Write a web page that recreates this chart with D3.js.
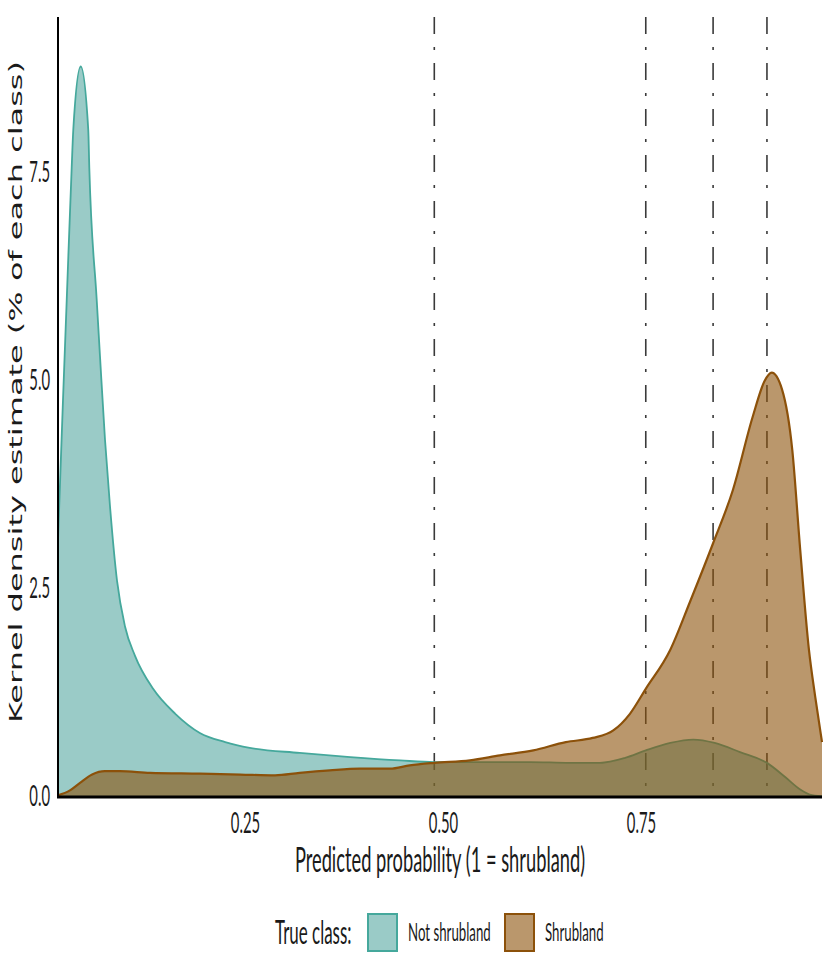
<!DOCTYPE html>
<html>
<head>
<meta charset="utf-8">
<script src="https://cdn.jsdelivr.net/npm/d3@7"></script>
<style>
  body { margin: 0; background: #fff; }
  text { font-family: Lato, "Open Sans", sans-serif; fill: #1a1a1a; }
</style>
</head>
<body>
<div id="chart"></div>
<script>
(function (d3) {
    'use strict';

    // predicted probability grid points and kernel density (% of each class)
    const notShrubX = [0.0139, 0.0202, 0.0249, 0.0312, 0.0332, 0.0426, 0.0521, 0.0534, 0.0628, 0.0669,
                       0.0732, 0.0795, 0.0884, 0.0985, 0.111, 0.134, 0.162, 0.193, 0.225, 0.256,
                       0.319, 0.383, 0.446, 0.489, 0.547, 0.610, 0.660, 0.698, 0.730, 0.756,
                       0.787, 0.816, 0.843, 0.875, 0.909, 0.932, 0.951, 0.963, 0.9785];
    const notShrubY = [3.09, 4.77, 5.97, 7.57, 8.02, 8.78, 8.02, 7.57, 5.97, 5.3,
                       4.3, 3.5, 2.6, 2.05, 1.7, 1.3, 1.0, 0.77, 0.66, 0.59,
                       0.53, 0.48, 0.44, 0.42, 0.42, 0.42, 0.41, 0.41, 0.47, 0.56,
                       0.65, 0.69, 0.65, 0.54, 0.41, 0.24, 0.09, 0.03, 0.01];
    const shrubX = [0.0139, 0.029, 0.0417, 0.057, 0.073, 0.092, 0.130, 0.193, 0.244, 0.288,
                    0.319, 0.357, 0.395, 0.433, 0.458, 0.489, 0.534, 0.572, 0.614, 0.655,
                    0.689, 0.715, 0.736, 0.756, 0.787, 0.812, 0.841, 0.866, 0.891, 0.906,
                    0.915, 0.928, 0.941, 0.951, 0.962, 0.970, 0.9785];
    const shrubY = [0.02, 0.08, 0.17, 0.27, 0.31, 0.31, 0.29, 0.28, 0.27, 0.26,
                    0.29, 0.32, 0.34, 0.34, 0.38, 0.41, 0.44, 0.50, 0.56, 0.66,
                    0.71, 0.80, 1.0, 1.3, 1.77, 2.35, 3.05, 3.69, 4.57, 5.0,
                    5.1, 4.9, 4.17, 2.97, 1.77, 1.2, 0.66];
    const thresholds = [0.489, 0.756, 0.841, 0.909];
    const xTicks = [0.25, 0.50, 0.75];
    const yTicks = [0, 2.5, 5, 7.5];
    const classes = ['Not shrubland', 'Shrubland'];

    const width = 830, height = 969, SX = 0.53;
    const left = 58, right = 822, top = 17, bottom = 797;

    const x = d3.scaleLinear().domain([0.0139, 0.9785]).range([left, right]);
    const y = d3.scaleLinear().domain([0, 9.375]).range([bottom, top]);

    const svg = d3.select('#chart').append('svg')
        .attr('width', width)
        .attr('height', height);

    // threshold lines (under the fills)
    svg.selectAll('line.thr').data(thresholds).enter()
        .append('line')
            .attr('class', 'thr')
            .attr('x1', d => x(d)).attr('x2', d => x(d))
            .attr('y1', top).attr('y2', bottom)
            .attr('stroke', '#3a3a3a')
            .attr('stroke-width', 1.6)
            .attr('stroke-dasharray', '17,13,3,13');

    const series = [
        { xs: notShrubX, ys: notShrubY, fill: '#35978f', op: 0.5, line: '#45a89c', lw: 1.8 },
        { xs: shrubX, ys: shrubY, fill: '#8c510a', op: 0.6, line: '#8c510a', lw: 2.2 }
    ];

    const area = d3.area().x(d => x(d[0])).y0(y(0)).y1(d => y(d[1])).curve(d3.curveMonotoneX);
    const line = d3.line().x(d => x(d[0])).y(d => y(d[1])).curve(d3.curveMonotoneX);

    series.forEach(s => {
        const pts = d3.zip(s.xs, s.ys);
        svg.append('path').datum(pts)
            .attr('d', area)
            .attr('fill', s.fill)
            .attr('fill-opacity', s.op);
        svg.append('path').datum(pts)
            .attr('d', line)
            .attr('fill', 'none')
            .attr('stroke', s.line)
            .attr('stroke-width', s.lw);
    });

    // axes
    const xAxis = svg.append('g')
        .attr('transform', `translate(0,${bottom})`)
        .call(d3.axisBottom(x).tickValues(xTicks).tickFormat(d3.format('.2f')).tickSize(0).tickPadding(16));
    xAxis.select('.domain').remove();
    xAxis.selectAll('text').attr('transform', `scale(${SX},1)`).style('font-size', '28px').attr('fill', '#1a1a1a');

    const yAxis = svg.append('g')
        .attr('transform', `translate(${left},0)`)
        .call(d3.axisLeft(y).tickValues(yTicks).tickFormat(d3.format('.1f')).tickSize(0).tickPadding(15));
    yAxis.select('.domain').remove();
    yAxis.selectAll('text').attr('transform', `scale(${SX},1)`).style('font-size', '28px').attr('fill', '#1a1a1a');

    svg.append('line')
        .attr('x1', left).attr('x2', left).attr('y1', top).attr('y2', bottom + 1)
        .attr('stroke', '#000').attr('stroke-width', 2);
    svg.append('line')
        .attr('x1', left - 1).attr('x2', right).attr('y1', bottom).attr('y2', bottom)
        .attr('stroke', '#000').attr('stroke-width', 3);

    function sqText(px, py, str, size, anchor) {
        return svg.append('text')
            .attr('transform', `translate(${px},${py}) scale(${SX},1)`)
            .attr('text-anchor', anchor)
            .style('font-size', size + 'px')
            .text(str);
    }

    // titles
    sqText((left + right) / 2, 872, 'Predicted probability (1 = shrubland)', 34.5, 'middle');

    svg.append('text')
        .attr('transform', 'translate(22,392) rotate(-90)')
        .attr('text-anchor', 'middle')
        .attr('textLength', 662)
        .attr('lengthAdjust', 'spacingAndGlyphs')
        .style('font-family', '"DejaVu Sans", Verdana, sans-serif')
        .style('font-size', '18px')
        .attr('fill', '#111')
        .text('Kernel density estimate (% of each class)');

    // legend
    sqText(275, 944, 'True class:', 32, 'start');
    const keyX = [367, 504];
    classes.forEach((c, i) => {
        const s = series[i];
        svg.append('rect')
            .attr('x', keyX[i] + 1).attr('y', 914)
            .attr('width', 29).attr('height', 37)
            .attr('fill', s.fill).attr('fill-opacity', s.op)
            .attr('stroke', s.line).attr('stroke-width', 2);
        sqText(keyX[i] + 41, 941, c, 25, 'start');
    });
})(d3);
</script>
</body>
</html>
